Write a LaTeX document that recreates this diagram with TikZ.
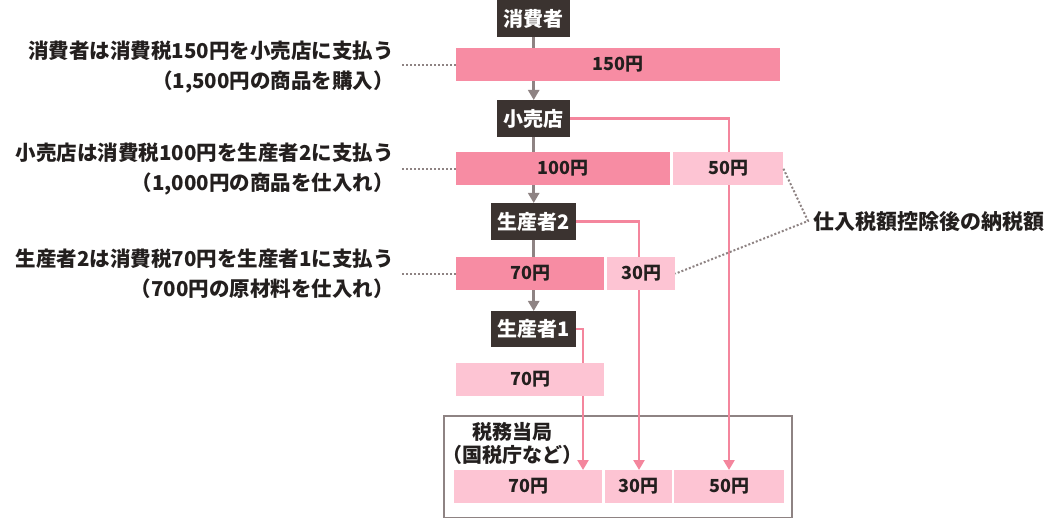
\documentclass[tikz,border=0pt]{standalone}
\usepackage{fontspec}
\setmainfont{Noto Sans CJK JP}
\usetikzlibrary{arrows.meta}
\definecolor{barD}{HTML}{F78CA3}
\definecolor{barL}{HTML}{FDC4D3}
\definecolor{pinkL}{HTML}{F4869D}
\definecolor{boxD}{HTML}{3B3330}
\definecolor{grayA}{HTML}{8E8383}
\definecolor{txt}{HTML}{231F1E}
\tikzset{
  actor/.style={fill=boxD, text=white, inner sep=0pt, minimum height=37pt, anchor=north west, font=\fontsize{20}{22}\selectfont\bfseries},
  bar/.style={inner sep=0pt, minimum height=33pt, anchor=north west, text=txt, font=\fontsize{18}{20}\selectfont\bfseries},
  bard/.style={bar, fill=barD},
  barl/.style={bar, fill=barL},
  desc/.style={align=right, anchor=east, inner sep=0pt, text=txt, font=\fontsize{20.5}{30}\selectfont\bfseries},
  flow/.style={draw=grayA, line width=3pt, -{Triangle[width=11pt,length=10pt]}},
  pay/.style={draw=pinkL, line width=2.6pt, -{Triangle[width=11pt,length=10pt]}},
  dots/.style={draw=grayA, line width=2pt, dotted},
}
\begin{document}
\begin{tikzpicture}[x=1pt,y=-1pt]
\useasboundingbox (0,0) rectangle (1057,518);
% actors
\node[actor, minimum width=73pt] (cons) at (497,0) {消費者};
\node[actor, minimum width=73pt] (shop) at (497,100) {小売店};
\node[actor, minimum width=85pt] (p2) at (491,203) {生産者2};
\node[actor, minimum width=85pt, minimum height=36pt] (p1) at (491,311) {生産者1};
% tax office
\node[draw=grayA, line width=2pt, inner sep=0pt, minimum width=348pt, minimum height=102pt, anchor=north west] (tax) at (443,415) {};
\node[align=center, inner sep=0pt, text=txt, font=\fontsize{20}{23}\selectfont\bfseries] (taxlbl) at (512,443) {税務当局\\（国税庁など）};
\coordinate (t70in) at (583,470);
% flows (behind bars)
\draw[flow] (cons.south) -- (shop.north);
\draw[flow] (shop.south) -- (p2.north);
\draw[flow] (p2.south) -- (p1.north);
\draw[pay] (shop.east) -| (729,470);
\draw[pay] (p2.east) -| (639,470);
\draw[pay] (p1.east) -| (t70in);
% bars
\node[bard, minimum width=324pt] (b150) at (456,48) {150円};
\node[bard, minimum width=214pt, minimum height=33pt] (b100) at (456,152) {100円};
\node[barl, minimum width=110pt] (b50) at (673,152) {50円};
\node[bard, minimum width=148pt] (b70a) at (456,257) {70円};
\node[barl, minimum width=68pt] (b30) at (607,257) {30円};
\node[barl, minimum width=148pt] (b70b) at (456,363) {70円};
\node[barl, minimum width=148pt] (t70) at (454,470) {70円};
\node[barl, minimum width=67pt] (t30) at (605,470) {30円};
\node[barl, minimum width=110pt] (t50) at (674,470) {50円};
% descriptions
\node[desc] (d1) at (394,67) {消費者は消費税150円を小売店に支払う\\（1,500円の商品を購入）};
\node[desc] (d2) at (394,169) {小売店は消費税100円を生産者2に支払う\\（1,000円の商品を仕入れ）};
\node[desc] (d3) at (394,274) {生産者2は消費税70円を生産者1に支払う\\（700円の原材料を仕入れ）};
\draw[dots] ([xshift=8pt]d1.east |- b150.west) -- (b150.west);
\draw[dots] ([xshift=8pt]d2.east |- b100.west) -- (b100.west);
\draw[dots] ([xshift=8pt]d3.east |- b70a.west) -- (b70a.west);
% right label
\node[anchor=west, inner sep=0pt, text=txt, font=\fontsize{21}{24}\selectfont\bfseries] (net) at (813,222) {仕入税額控除後の納税額};
\coordinate (j) at (808,221);
\draw[dots] (b50.east) -- (j) -- (b30.east);
\end{tikzpicture}
\end{document}
